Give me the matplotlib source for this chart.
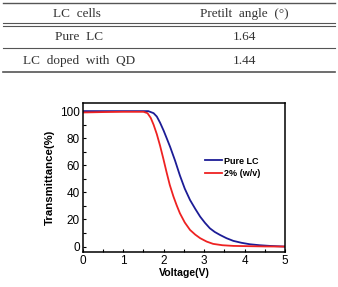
import numpy as np
from matplotlib import pyplot as plt
from matplotlib.lines import Line2D

# table contents
col_heads = ["LC  cells", "Pretilt  angle  (°)"]
row_names = ["Pure  LC", "LC  doped  with  QD"]
pretilt = ["1.64", "1.44"]

# V-T curves
volt_pure = [0, 0.5, 1.0, 1.5, 1.62, 1.75, 1.83, 1.91, 2.0, 2.07, 2.16, 2.28, 2.40, 2.52,
             2.65, 2.78, 2.90, 3.02, 3.14, 3.26, 3.39, 3.55, 3.72, 3.92, 4.13, 4.37, 4.62, 5.0]
trans_pure = [100, 100, 100, 100, 100, 98.5, 96, 91.5, 85.5, 80.3, 73.5, 63.5, 52.5, 42.8,
              34.4, 27.8, 22.1, 17.5, 13.5, 10.8, 8.6, 6.2, 4.2, 2.8, 1.7, 1.0, 0.5, 0]
volt_qd = [0, 0.5, 1.0, 1.5, 1.6, 1.68, 1.75, 1.83, 1.91, 1.99, 2.07, 2.15, 2.24, 2.32,
           2.40, 2.52, 2.65, 2.78, 2.90, 3.06, 3.22, 3.45, 3.72, 4.1, 4.5, 5.0]
trans_qd = [99, 99.3, 99.5, 99.5, 98.5, 95, 90, 83, 74.5, 65, 55, 45.5, 37, 30.5,
            24.6, 17.8, 12.3, 8.8, 6.2, 3.7, 2.0, 1.0, 0.5, 0.3, 0.1, 0]

W, H = 338, 287
fig = plt.figure(figsize=(W / 100, H / 100), dpi=100)

def px(x, y):
    return x / W, 1 - y / H

# --- table on top ---
tcol = '#333333'
for y, lw in [(3, 1.0), (23, 0.8), (25.5, 0.8), (48, 0.8), (71.5, 1.2)]:
    x0, y0 = px(3, y)
    x1, _ = px(335, y)
    fig.add_artist(Line2D([x0, x1], [y0, y0], color='#555555', lw=lw))

tkw = dict(ha='center', va='center', fontsize=9.5, family='Liberation Serif', color=tcol)
fig.text(*px(77, 14), col_heads[0], **tkw)
fig.text(*px(244, 14), col_heads[1], **tkw)
for i, (name, val) in enumerate(zip(row_names, pretilt)):
    yy = 37 + i * 24
    fig.text(*px(79, yy), name, **tkw)
    fig.text(*px(244, yy), val, **tkw)

# --- V-T chart ---
plt.rcParams['font.family'] = ['Liberation Sans', 'DejaVu Sans']
ax = fig.add_axes([82.7 / W, 1 - 252 / H, 202.5 / W, 149 / H])
ax.plot(volt_pure, trans_pure, color='#1c1c96', lw=1.3, label='Pure LC')
ax.plot(volt_qd, trans_qd, color='#ee2222', lw=1.3, label='2% (w/v)')

ax.set_xlim(0, 5)
ax.set_ylim(-4, 106)
ax.set_xticks(range(0, 6))
ax.set_yticks(range(0, 101, 20))
ax.set_xticks(np.arange(0.5, 5, 1), minor=True)
ax.set_yticks(np.arange(10, 100, 20), minor=True)
ax.tick_params(which='both', direction='in', labelsize=8.5, width=0.8, pad=2)
ax.tick_params(which='major', length=2.5)
ax.tick_params(which='minor', length=2)
for s in ax.spines.values():
    s.set_linewidth(1.1)

ax.set_xlabel('Voltage(V)', fontsize=7.6, fontweight='bold', labelpad=1)
ax.set_ylabel('Transmittance(%)', fontsize=8.2, fontweight='bold', labelpad=4)

leg = ax.legend(loc='upper left', bbox_to_anchor=(0.605, 0.64), frameon=False,
                prop={'size': 6.5, 'weight': 'bold'}, handlelength=1.9,
                handletextpad=0.2, labelspacing=0.35, borderpad=0, borderaxespad=0)

fig.savefig('out.png', dpi=100)
